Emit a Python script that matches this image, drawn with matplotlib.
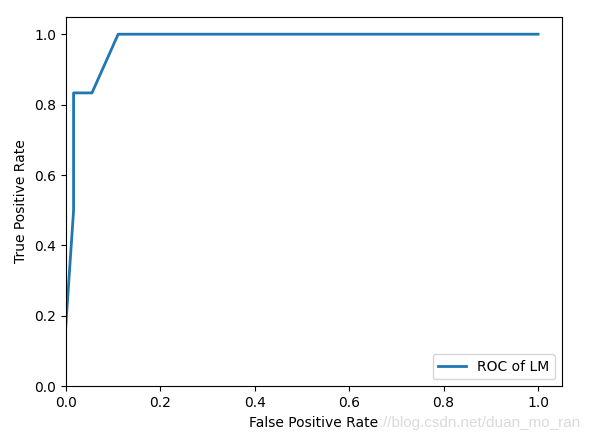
import matplotlib
matplotlib.use('Agg')
import matplotlib.pyplot as plt

# pontos da curva ROC
fpr = [0.0, 0.0167, 0.0167, 0.0556, 0.1111, 1.0]
tpr = [0.1667, 0.5, 0.8333, 0.8333, 1.0, 1.0]
label_curva = 'ROC of LM'

fig = plt.figure(figsize=(6.06, 4.37), dpi=100)
ax = fig.add_axes([0.1084, 0.116, 0.8185, 0.846])

# marca d'agua do blog (fica por baixo do rotulo do eixo x)
fig.text(0.958, 0.022, 'https://blog.csdn.net/duan_mo_ran', ha='right', va='baseline',
         fontsize=11, family='Liberation Sans', color='#dadada', zorder=-1)

ax.plot(fpr, tpr, linewidth=2, label=label_curva)
ax.set_xlim(0, 1.05)
ax.set_ylim(0, 1.05)
ax.set_xlabel('False Positive Rate',
              bbox=dict(facecolor='white', edgecolor='none', pad=0))
ax.set_ylabel('True Positive Rate')
ax.legend(loc='lower right')

fig.savefig('out.png', dpi=100)
